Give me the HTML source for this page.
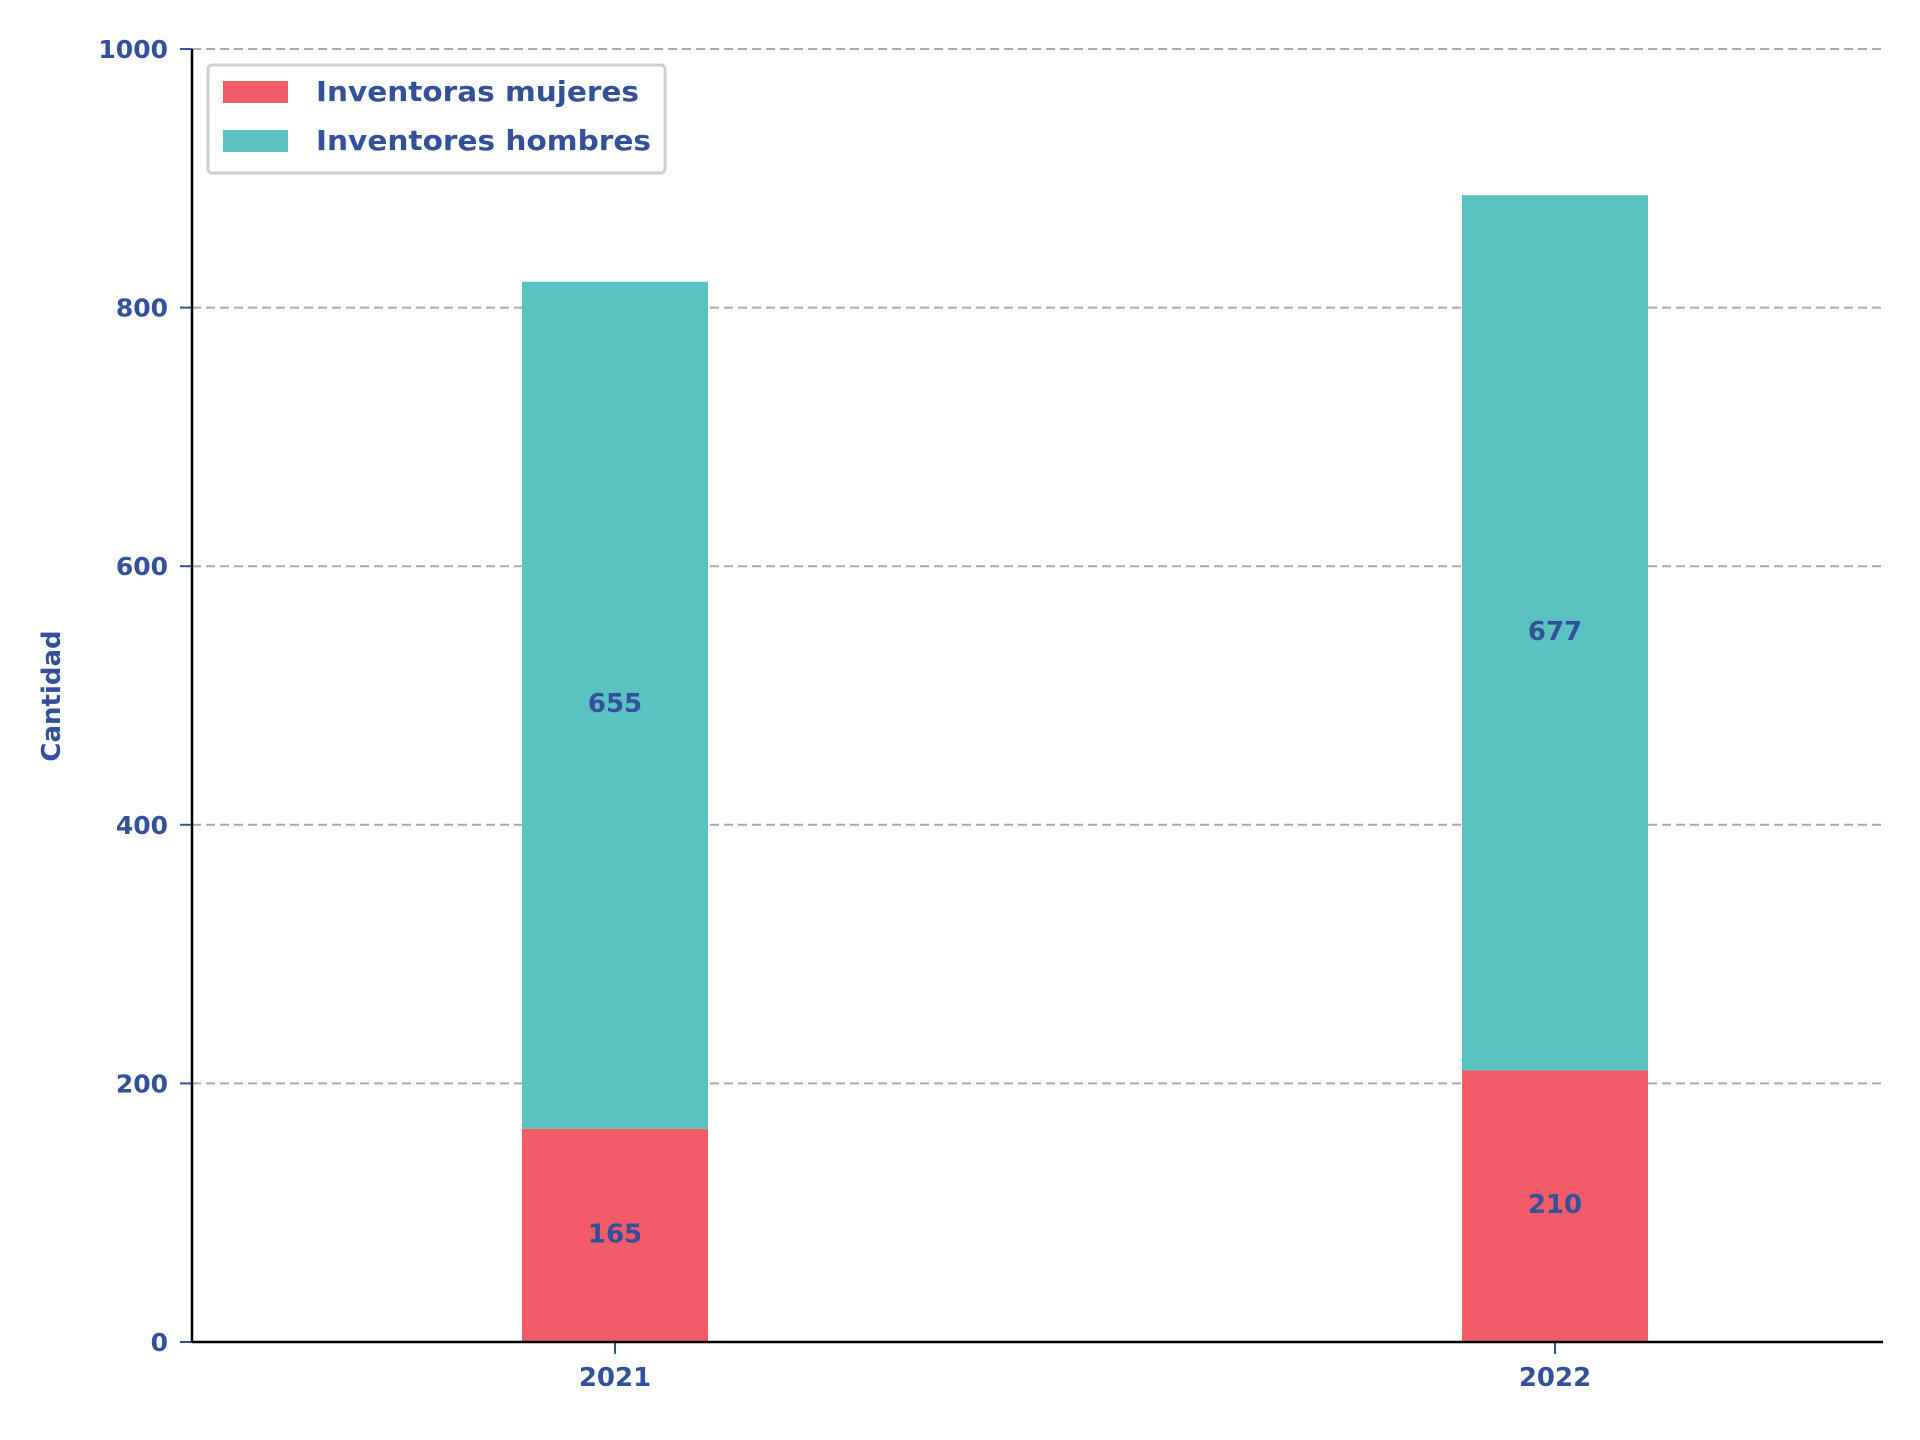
<!DOCTYPE html>
<html><head><meta charset="utf-8"><style>
html,body{margin:0;padding:0;background:#fff;width:1920px;height:1440px;overflow:hidden}
text{font-family:"DejaVu Sans","Liberation Sans",sans-serif;font-weight:bold;fill:#34509a}
</style></head><body>
<svg id="chart" width="1920" height="1440" xmlns="http://www.w3.org/2000/svg">
<g id="grid"></g><g id="bars"></g><g id="axes"></g>
<g>
<rect x="208" y="65" width="457" height="108" rx="4" fill="#fff" stroke="#cfcfcf" stroke-width="3"/>
<rect x="223" y="81" width="65" height="22" fill="#f25c69"/>
<text x="316" y="101" font-size="28" textLength="323" lengthAdjust="spacingAndGlyphs">Inventoras mujeres</text>
<rect x="223" y="130" width="65" height="22" fill="#5ac3c1"/>
<text x="316" y="150" font-size="28" textLength="335" lengthAdjust="spacingAndGlyphs">Inventores hombres</text>
</g>
<text transform="translate(60,696) rotate(-90)" text-anchor="middle" font-size="26">Cantidad</text>
</svg>
<script>
const categories=["2021","2022"];
const mujeres=[165,210];
const hombres=[655,677];
const yTicks=[0,200,400,600,800,1000];
const NS="http://www.w3.org/2000/svg";
const L=192,R=1883,T=49,B=1342,yMax=1000;
const y=v=>B-(v/yMax)*(B-T);
const xc=i=>[615,1555][i];
const bw=186;
function mk(tag,attrs,parent,txt){const e=document.createElementNS(NS,tag);for(const k in attrs)e.setAttribute(k,attrs[k]);if(txt!==undefined)e.textContent=txt;parent.appendChild(e);return e;}
const grid=document.getElementById('grid'),bars=document.getElementById('bars'),axes=document.getElementById('axes');
yTicks.forEach(t=>{
  if(t>0){const g=mk('line',{x1:L,x2:R,y1:y(t),y2:y(t),stroke:'#aaa','stroke-width':2,'stroke-dasharray':'9,5'},grid);
  
  }
  const tk=mk('line',{x1:L-12,x2:L,y1:y(t),y2:y(t),stroke:'#34509a','stroke-width':2},axes);
  
  
  const lb=mk('text',{x:L-24,y:y(t)+9,'text-anchor':'end','font-size':25},axes,String(t));
  
  
});
categories.forEach((c,i)=>{
  const x=xc(i)-bw/2;
  const r1=mk('rect',{x:x,y:y(mujeres[i]),width:bw,height:y(0)-y(mujeres[i]),fill:'#f25c69'},bars);
  
  
  const top=mujeres[i]+hombres[i];
  const r2=mk('rect',{x:x,y:y(top),width:bw,height:y(mujeres[i])-y(top),fill:'#5ac3c1'},bars);
  
  
  const l1=mk('text',{x:xc(i),y:y(mujeres[i]/2)+7,'text-anchor':'middle','font-size':26},bars,String(mujeres[i]));
  
  
  const l2=mk('text',{x:xc(i),y:y(mujeres[i]+hombres[i]/2)+7,'text-anchor':'middle','font-size':26},bars,String(hombres[i]));
  
  
  const tk=mk('line',{x1:xc(i),x2:xc(i),y1:B,y2:B+12,stroke:'#34509a','stroke-width':2},axes);
  
  
  const xl=mk('text',{x:xc(i),y:B+44,'text-anchor':'middle','font-size':26},axes,c);
  
  
});
const ya=mk('line',{x1:L,x2:L,y1:T,y2:B,stroke:'#000','stroke-width':2.5},axes);


const xa=mk('line',{x1:L,x2:R,y1:B,y2:B,stroke:'#000','stroke-width':2.5},axes);


</script>
</body></html>
